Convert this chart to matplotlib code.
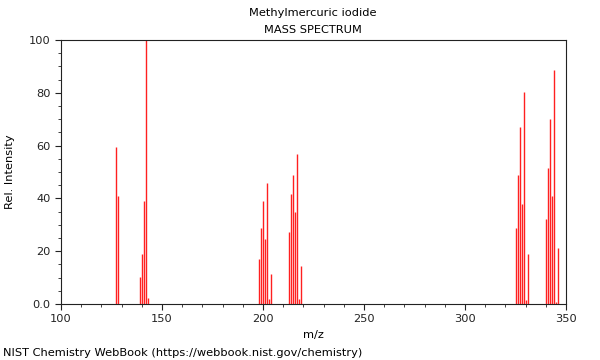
import numpy as np
import matplotlib

matplotlib.use("Agg")
import matplotlib.pyplot as plt
from matplotlib.ticker import MultipleLocator, FuncFormatter

# m/z and relative intensity
mz = [127, 128,
      139, 140, 141, 142, 143,
      198, 199, 200, 201, 202, 203, 204,
      213, 214, 215, 216, 217, 218, 219,
      325, 326, 327, 328, 329, 330, 331,
      340, 341, 342, 343, 344, 345, 346]
intensity = [59.5, 41.0,
             10.3, 19.0, 39.0, 100.0, 2.2,
             17.0, 28.9, 39.0, 24.6, 46.0, 2.0, 11.5,
             27.4, 41.6, 48.9, 34.8, 57.0, 2.0, 14.3,
             28.8, 48.9, 67.0, 37.9, 80.3, 1.5, 19.0,
             32.2, 51.6, 70.0, 40.9, 88.6, 0.8, 21.2]

INK = "#222222"
FS = 8.2

fig = plt.figure(figsize=(6.0, 3.6), dpi=100)
ax = fig.add_axes([61 / 600, 1 - 304 / 360, 505 / 600, 264 / 360])

ax.vlines(mz, 0, intensity, color="#ff2020", linewidth=1.0)

ax.set_xlim(100, 350)
ax.set_ylim(0, 100)
ax.xaxis.set_major_locator(MultipleLocator(50))
ax.xaxis.set_minor_locator(MultipleLocator(10))
ax.yaxis.set_major_locator(MultipleLocator(20))
ax.yaxis.set_minor_locator(MultipleLocator(5))
ax.yaxis.set_major_formatter(FuncFormatter(lambda v, p: "0.0" if v == 0 else f"{v:.0f}"))

for side in ax.spines.values():
    side.set_color(INK)
    side.set_linewidth(0.8)
ax.tick_params(which="major", length=4, width=0.8, colors=INK, labelsize=FS)
ax.tick_params(which="minor", length=2, width=0.6, colors=INK)

ax.set_xlabel("m/z", fontsize=FS)
ax.set_ylabel("Rel. Intensity", fontsize=FS, labelpad=10)

fig.text(313 / 600, 1 - 13 / 360, "Methylmercuric iodide", ha="center", va="center", fontsize=FS)
fig.text(313 / 600, 1 - 30 / 360, "MASS SPECTRUM", ha="center", va="center", fontsize=FS)
fig.text(3 / 600, 1 - 353 / 360, "NIST Chemistry WebBook (https://webbook.nist.gov/chemistry)",
         ha="left", va="center", fontsize=FS)

fig.savefig("out.png", dpi=100)
